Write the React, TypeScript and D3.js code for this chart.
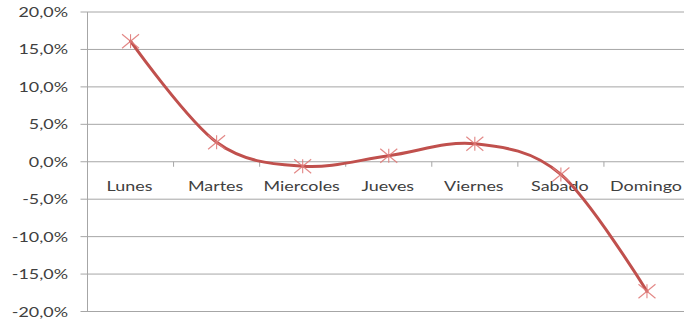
import React from "react";
import * as d3 from "d3";

// Weekly variation by day
const days = ["Lunes", "Martes", "Miercoles", "Jueves", "Viernes", "Sabado", "Domingo"];
const variation = [16.1, 2.6, -0.6, 0.8, 2.4, -1.7, -17.3];
const yTicks = [20, 15, 10, 5, 0, -5, -10, -15, -20];

const W = 684;
const H = 322;
const left = 87.5;
const right = 690;
const top = 12;
const bottom = 311.5;
const sx = 1.28; // horizontal text stretch

const fmt = (v: number) => v.toFixed(1).replace(".", ",") + "%";

export default function App() {
  const x = d3.scaleBand<string>().domain(days).range([left, right]);
  const y = d3.scaleLinear().domain([-20, 20]).range([bottom, top]);
  const cx = (d: string) => (x(d) as number) + x.bandwidth() / 2;

  const line = d3
    .line<number>()
    .x((_, i) => cx(days[i]))
    .y((v) => y(v))
    .curve(d3.curveCardinal.tension(0));

  const font = "Lato, 'Open Sans', sans-serif";
  const textColor = "#404040";
  const grid = "#a6a6a6";

  return (
    <svg
      width={W}
      height={H}
      style={{ position: "absolute", left: 0, top: 0, background: "#fff" }}
    >
      {yTicks.map((t) => (
        <g key={t}>
          <line x1={left - 7} x2={W} y1={y(t)} y2={y(t)} stroke={grid} strokeWidth={1} />
          <g transform={`translate(${68},${y(t) + 5}) scale(${sx},1)`}>
            <text textAnchor="end" fontFamily={font} fontSize={14} fill={textColor}>
              {fmt(t)}
            </text>
          </g>
        </g>
      ))}
      <line x1={left} x2={left} y1={top} y2={bottom} stroke={grid} strokeWidth={1} />
      {days.map((d, i) =>
        i === 0 ? null : (
          <line
            key={"t" + d}
            x1={x(d) as number}
            x2={x(d) as number}
            y1={y(0)}
            y2={y(0) + 5}
            stroke={grid}
            strokeWidth={1}
          />
        )
      )}
      {days.map((d) => (
        <g key={"l" + d} transform={`translate(${cx(d) - 1},${191}) scale(${sx},1)`}>
          <text textAnchor="middle" fontFamily={font} fontSize={14} fill={textColor}>
            {d}
          </text>
        </g>
      ))}
      <path d={line(variation) || ""} fill="none" stroke="#c0504d" strokeWidth={3} strokeLinecap="round" />
      {variation.map((v, i) => {
        const px = cx(days[i]);
        const py = y(v);
        const hx = 8.5;
        const hy = 7;
        return (
          <g key={"m" + i} stroke="#e07a78" strokeWidth={1.1} opacity={0.9}>
            <line x1={px - hx} y1={py - hy} x2={px + hx} y2={py + hy} />
            <line x1={px - hx} y1={py + hy} x2={px + hx} y2={py - hy} />
            <line x1={px} y1={py - hy} x2={px} y2={py + hy} />
          </g>
        );
      })}
    </svg>
  );
}
